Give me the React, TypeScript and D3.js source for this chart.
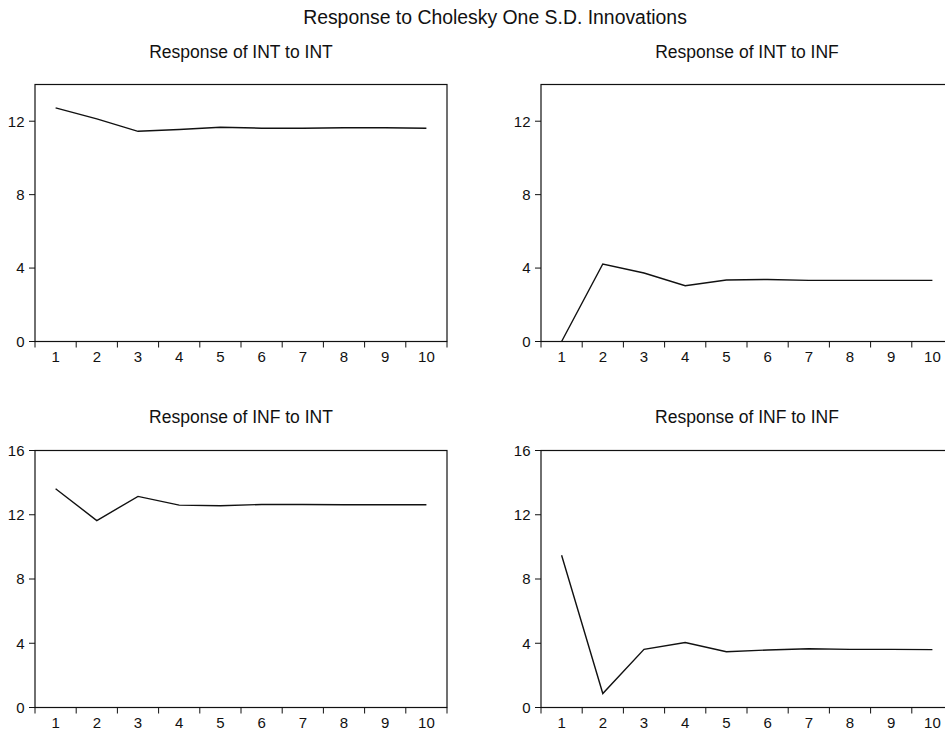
import { useEffect, useRef } from "react";
import * as d3 from "d3";

const periods = ["1", "2", "3", "4", "5", "6", "7", "8", "9", "10"];

const intToInt = [12.73, 12.13, 11.45, 11.55, 11.67, 11.62, 11.62, 11.64, 11.64, 11.62];
const intToInf = [0, 4.22, 3.73, 3.04, 3.35, 3.38, 3.33, 3.33, 3.33, 3.33];
const infToInt = [13.62, 11.64, 13.14, 12.6, 12.56, 12.64, 12.64, 12.62, 12.62, 12.62];
const infToInf = [9.48, 0.87, 3.62, 4.05, 3.47, 3.58, 3.66, 3.62, 3.62, 3.6];

const topTicks = [0, 4, 8, 12];
const bottomTicks = [0, 4, 8, 12, 16];

const panelTitles = [
  "Response of INT to INT",
  "Response of INT to INF",
  "Response of INF to INT",
  "Response of INF to INF"
];

const mainTitle = "Response to Cholesky One S.D. Innovations";

const WIDTH = 945;
const HEIGHT = 733;
const FONT = "'Liberation Sans', Arial, sans-serif";

export default function App() {
  const ref = useRef<SVGSVGElement | null>(null);

  useEffect(() => {
    if (!ref.current) {
      return;
    }
    const svg = d3.select(ref.current);
    svg.selectAll("*").remove();

    svg
      .append("rect")
      .attr("width", WIDTH)
      .attr("height", HEIGHT)
      .attr("fill", "white");

    svg
      .append("text")
      .attr("x", 495)
      .attr("y", 23.5)
      .attr("text-anchor", "middle")
      .style("font-family", FONT)
      .style("font-size", "19.4px")
      .attr("fill", "#111")
      .text(mainTitle);

    const panels = [
      { title: panelTitles[0], data: intToInt, ticks: topTicks, yMax: 14, left: 35, top: 84.5, bottom: 341.5, titleY: 58 },
      { title: panelTitles[1], data: intToInf, ticks: topTicks, yMax: 14, left: 541, top: 84.5, bottom: 341.5, titleY: 58 },
      { title: panelTitles[2], data: infToInt, ticks: bottomTicks, yMax: 16, left: 35, top: 450.5, bottom: 707.5, titleY: 422.5 },
      { title: panelTitles[3], data: infToInf, ticks: bottomTicks, yMax: 16, left: 541, top: 450.5, bottom: 707.5, titleY: 422.5 }
    ];

    const plotWidth = 412;

    panels.forEach((panel) => {
      const g = svg.append("g");
      const x = d3
        .scaleBand()
        .domain(periods)
        .range([panel.left, panel.left + plotWidth]);
      const y = d3.scaleLinear().domain([0, panel.yMax]).range([panel.bottom, panel.top]);

      g.append("text")
        .attr("x", panel.left + plotWidth / 2)
        .attr("y", panel.titleY)
        .attr("text-anchor", "middle")
        .style("font-family", FONT)
        .style("font-size", "17.5px")
        .attr("fill", "#111")
        .text(panel.title);

      // frame
      g.append("rect")
        .attr("x", panel.left)
        .attr("y", panel.top)
        .attr("width", plotWidth)
        .attr("height", panel.bottom - panel.top)
        .attr("fill", "none")
        .attr("stroke", "#111")
        .attr("stroke-width", 1.2);

      // y ticks
      g.append("g")
        .selectAll("line")
        .data(panel.ticks)
        .join("line")
        .attr("x1", panel.left - 6)
        .attr("x2", panel.left)
        .attr("y1", (d) => y(d))
        .attr("y2", (d) => y(d))
        .attr("stroke", "#111");

      g.append("g")
        .selectAll("text")
        .data(panel.ticks)
        .join("text")
        .attr("x", panel.left - 10.5)
        .attr("y", (d) => y(d))
        .attr("dy", "0.36em")
        .attr("text-anchor", "end")
        .style("font-family", FONT)
        .style("font-size", "15px")
        .attr("fill", "#111")
        .text((d) => d);

      // x ticks sit on the band edges
      const edges = periods.map((p) => x(p) as number).concat([panel.left + plotWidth]);
      g.append("g")
        .selectAll("line")
        .data(edges)
        .join("line")
        .attr("x1", (d) => d)
        .attr("x2", (d) => d)
        .attr("y1", panel.bottom)
        .attr("y2", panel.bottom + 6)
        .attr("stroke", "#111");

      g.append("g")
        .selectAll("text")
        .data(periods)
        .join("text")
        .attr("x", (d) => (x(d) as number) + x.bandwidth() / 2)
        .attr("y", panel.bottom + 20.5)
        .attr("text-anchor", "middle")
        .style("font-family", FONT)
        .style("font-size", "15px")
        .attr("fill", "#111")
        .text((d) => d);

      const line = d3
        .line<number>()
        .x((_, i) => (x(periods[i]) as number) + x.bandwidth() / 2)
        .y((d) => y(d));

      g.append("path")
        .datum(panel.data)
        .attr("fill", "none")
        .attr("stroke", "#111")
        .attr("stroke-width", 1.4)
        .attr("d", line);
    });
  }, []);

  return (
    <svg
      ref={ref}
      width={WIDTH}
      height={HEIGHT}
      style={{ position: "absolute", left: 0, top: 0, display: "block" }}
    />
  );
}
